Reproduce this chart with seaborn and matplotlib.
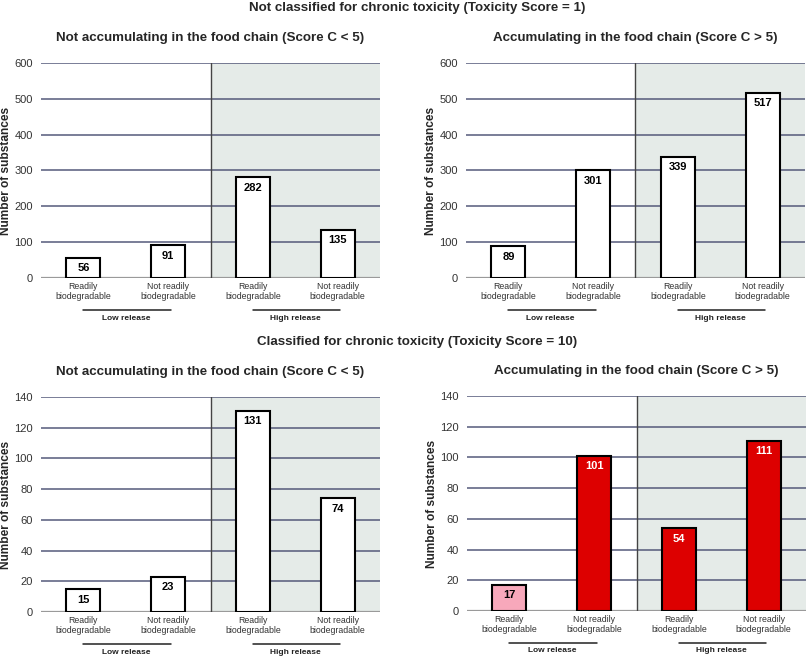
import matplotlib
matplotlib.use("Agg")
import matplotlib.pyplot as plt
import matplotlib.transforms as mtransforms
import pandas as pd
import seaborn as sns

# Data
categories = ["Readily\nbiodegradable", "Not readily\nbiodegradable",
              "Readily\nbiodegradable", "Not readily\nbiodegradable"]
groups = ["Low release", "High release"]
row_titles = ["Not classified for chronic toxicity (Toxicity Score = 1)",
              "Classified for chronic toxicity (Toxicity Score = 10)"]
col_titles = ["Not accumulating in the food chain (Score C < 5)",
              "Accumulating in the food chain (Score C > 5)"]
not_cls_not_acc = [56, 91, 282, 135]
not_cls_acc = [89, 301, 339, 517]
cls_not_acc = [15, 23, 131, 74]
cls_acc = [17, 101, 54, 111]

WHITE = "#ffffff"
RED = "#dd0000"
PINK = "#f7a8bb"
GRID = "#555a7a"
SHADE = "#e5ebe8"

# (values, bar colours, y max, tick step, [axes left px, axes bottom px])
panels = [
    (not_cls_not_acc, [WHITE] * 4, 600, 100, [41, 278]),
    (not_cls_acc, [WHITE] * 4, 600, 100, [466, 278]),
    (cls_not_acc, [WHITE] * 4, 140, 20, [41, 612]),
    (cls_acc, [PINK, RED, RED, RED], 140, 20, [467, 611]),
]

sns.set_theme(style="white")
plt.rcParams["font.family"] = ["Liberation Sans", "DejaVu Sans"]

W, H = 808, 659
AX_W, AX_H = 339, 215
fig = plt.figure(figsize=(W / 100, H / 100), dpi=100)

for i, (vals, colors, ymax, step, (left_px, bottom_px)) in enumerate(panels):
    ax = fig.add_axes([left_px / W, (H - bottom_px) / H, AX_W / W, AX_H / H])
    df = pd.DataFrame({"slot": [0, 1, 2, 3], "n": vals})
    ax.axvspan(1.5, 3.5, color=SHADE, zorder=0, lw=0)
    for t in range(step, ymax + 1, step):
        ax.axhline(t, color=GRID, lw=1.1, zorder=1)
    ax.axhline(0, color="#9a9a9a", lw=1.6, zorder=1)
    ax.axvline(1.5, color="#444444", lw=1.0, zorder=1)
    sns.barplot(data=df, x="slot", y="n", hue="slot", palette=colors,
                saturation=1, legend=False, width=0.4, edgecolor="black",
                linewidth=1.5, ax=ax, zorder=3)
    ax.set_xlim(-0.5, 3.5)
    ax.set_ylim(0, ymax)
    ax.set_yticks(range(0, ymax + 1, step))
    ax.tick_params(axis="y", labelsize=8, colors="#333333", length=0, pad=6)
    ax.set_xticks(range(4))
    ax.set_xticklabels(categories, fontsize=6.3, color="#333333",
                       linespacing=1.05)
    ax.tick_params(axis="x", length=0, pad=3)
    ax.set_xlabel("")
    ax.set_ylabel("Number of substances", fontsize=8.6, fontweight="bold")
    # label anchor is its right edge once rotated
    ax.yaxis.set_label_coords(-29 / AX_W, 0.5)
    for s in ax.spines.values():
        s.set_visible(False)
    ax.set_title(col_titles[i % 2], fontsize=9.6, fontweight="bold", pad=16)

    for x, v, c in zip(range(4), vals, colors):
        ax.annotate(str(v), (x, v), xytext=(0, -4), textcoords="offset points",
                    ha="center", va="top", fontsize=8, fontweight="bold",
                    color="white" if c == RED else "black", zorder=4)

    trans = mtransforms.blended_transform_factory(ax.transData, ax.transAxes)
    for g, (a, b) in enumerate([(0, 1), (2, 3)]):
        ax.plot([a, b + 0.03], [-32 / AX_H, -32 / AX_H], color="#222222",
                lw=1.1, transform=trans, clip_on=False)
        ax.text((a + b) / 2, -40 / AX_H, groups[g], transform=trans,
                ha="center", va="center", fontsize=6, fontweight="bold",
                color="#222222")

fig.text(417 / W, 1 - 8 / H, row_titles[0], ha="center", va="center",
         fontsize=9.6, fontweight="bold")
fig.text(417 / W, 1 - 342 / H, row_titles[1], ha="center", va="center",
         fontsize=9.6, fontweight="bold")

fig.savefig("out.png", dpi=100, facecolor="white")
